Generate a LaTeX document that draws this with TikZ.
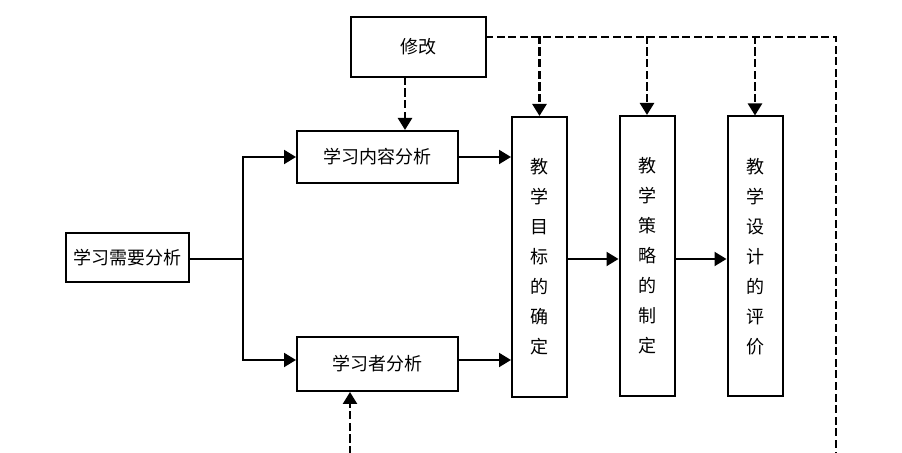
\documentclass[tikz,border=0pt]{standalone}
\usepackage{fontspec}
\newfontfamily\cjk{Noto Sans CJK SC}
\usetikzlibrary{arrows.meta}
\usetikzlibrary{positioning}

\tikzset{
  box/.style={draw=black, line width=1pt, inner sep=1pt, font=\cjk\fontsize{9pt}{15pt}\selectfont},
  colbox/.style={box, minimum width=27.5pt, minimum height=140pt, align=center},
  arr/.style={line width=1pt, -{Triangle[length=6pt,width=7pt]}},
  darr/.style={arr, line width=1.2pt, dash pattern=on 3pt off 2.8pt},
  dline/.style={line width=1pt, dash pattern=on 3pt off 2.8pt}
}

\begin{document}
\begin{tikzpicture}[x=0.5pt,y=-0.5pt,line cap=rect]
  \useasboundingbox (0,0) rectangle (902,453);

  %% boxes
  \node[box, minimum width=67.5pt, minimum height=30pt] (xg) at (418.5,47) {修改};
  \node[box, minimum width=80.5pt, minimum height=26pt] (nr) at (377.5,157) {学习内容分析};
  \node[box, minimum width=80.5pt, minimum height=27pt] (zf) at (377.5,364) {学习者分析};
  \node[box, minimum width=61.5pt, minimum height=24.5pt] (xq) at (127.5,257.5) {学习需要分析};
  \node[colbox] (mb) at (539.5,257) {教\\学\\目\\标\\的\\确\\定};
  \node[colbox] (cl) at (647,256) {教\\学\\策\\略\\的\\制\\定};
  \node[colbox] (pj) at (755,256.5) {教\\学\\设\\计\\的\\评\\价};

  %% solid connectors
  \coordinate (fz) at (243,259);
  \draw[line width=1pt] (xq.east |- fz) -- (fz);
  \draw[arr] (fz) |- (nr.west);
  \draw[arr] (fz) |- (zf.west |- 0,360);
  \draw[arr] (nr.east) -- (nr -| mb.west);
  \draw[arr] (zf.east |- 0,360) -- (mb.west |- 0,360);
  \draw[arr] (mb.east |- 0,259) -- (cl.west |- 0,259);
  \draw[arr] (cl.east |- 0,259) -- (pj.west |- 0,259);

  %% dashed feedback
  \coordinate (xgr) at (486,37);
  \coordinate (tr) at (836,37);
  \coordinate (br) at (836,453);
  \coordinate (bt) at (350,453);
  \draw[dline] (xgr) -- (tr) -- (br);
  \foreach \n in {mb,cl,pj}
    \draw[darr] (\n.north |- tr) -- (\n.north);
  \draw[darr] ([xshift=-6.75pt]xg.south) -- ([xshift=13.75pt]nr.north);
  \draw[darr] (bt) -- (bt |- zf.south);
\end{tikzpicture}
\end{document}
